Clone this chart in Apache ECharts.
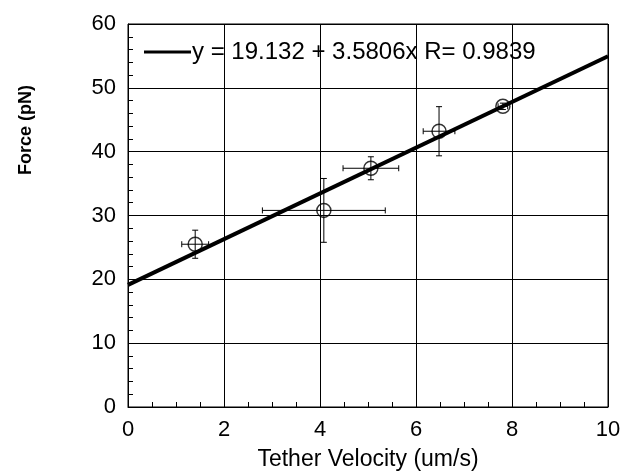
<!DOCTYPE html>
<html>
<head>
<meta charset="utf-8">
<script src="https://cdn.jsdelivr.net/npm/echarts@6/dist/echarts.min.js"></script>
<style>
  html, body { margin: 0; padding: 0; background: #fff; }
  #chart { width: 623px; height: 472px; }
</style>
</head>
<body>
<div id="chart"></div>
<script>
const velocity = [1.40, 4.08, 5.06, 6.48, 7.81];
const force = [25.5, 30.8, 37.4, 43.2, 47.1];
const velocityErr = [0.28, 1.28, 0.58, 0.33, 0.10];
const forceErr = [2.2, 5.0, 1.8, 3.85, 0.5];

// linear fit as printed on the chart
const fitIntercept = 19.132;
const fitSlope = 3.5806;
const fitR = 0.9839;
const fitX = [0, 10];

const xTicks = [0, 2, 4, 6, 8, 10];
const yTicks = [0, 10, 20, 30, 40, 50, 60];

const fitName = 'y = ' + fitIntercept + ' + ' + fitSlope + 'x R= ' + fitR;

let points = velocity.map((v, i) => [v, force[i]]);
let errData = velocity.map((v, i) => [v, force[i], velocityErr[i], forceErr[i]]);
let fitLine = fitX.map(x => [x, fitIntercept + fitSlope * x]);

const font = 'Liberation Sans, Arial, sans-serif';

function errorBars(params, api) {
    let x = api.value(0), y = api.value(1);
    let ex = api.value(2), ey = api.value(3);
    let l = api.coord([x - ex, y]);
    let r = api.coord([x + ex, y]);
    let t = api.coord([x, y + ey]);
    let b = api.coord([x, y - ey]);
    let cap = 3;
    let st = { stroke: '#000', lineWidth: 1 };
    let seg = (x1, y1, x2, y2) => ({ type: 'line', shape: { x1, y1, x2, y2 }, style: st });
    return {
        type: 'group',
        children: [
            seg(l[0], l[1], r[0], r[1]),
            seg(l[0], l[1] - cap, l[0], l[1] + cap),
            seg(r[0], r[1] - cap, r[0], r[1] + cap),
            seg(t[0], t[1], b[0], b[1]),
            seg(t[0] - cap, t[1], t[0] + cap, t[1]),
            seg(b[0] - cap, b[1], b[0] + cap, b[1])
        ]
    };
}

let myChart = echarts.init(document.getElementById('chart'));

let option = {
    animation: false,
    backgroundColor: '#fff',
    grid: {
        left: 128, right: 15, top: 24, bottom: 65,
        outerBoundsMode: 'none',
        show: true, borderColor: '#000', borderWidth: 1
    },
    legend: {
        data: [fitName],
        left: 139, top: 35,
        icon: 'rect', itemWidth: 47, itemHeight: 3, itemGap: 0,
        textStyle: { fontFamily: font, fontSize: 24, color: '#000', padding: [0, 0, 0, -4] }
    },
    graphic: [{
        type: 'text',
        x: 26, y: 130,
        rotation: Math.PI / 2,
        style: {
            text: 'Force (pN)',
            font: 'bold 18px ' + font,
            fill: '#000',
            textAlign: 'center',
            textVerticalAlign: 'middle'
        }
    }],
    xAxis: {
        type: 'value',
        min: 0, max: 10, interval: 2,
        name: 'Tether Velocity (um/s)',
        nameLocation: 'middle', nameGap: 41,
        nameTextStyle: { fontFamily: font, fontSize: 23, color: '#000' },
        axisLine: { lineStyle: { color: '#000', width: 1 } },
        axisTick: { inside: true, length: 6, lineStyle: { color: '#000' } },
        minorTick: { show: true, splitNumber: 4, length: 5, lineStyle: { color: '#000' } },
        axisLabel: { fontFamily: font, fontSize: 22, color: '#000', margin: 12,
            formatter: v => xTicks.includes(v) ? String(v) : '' },
        splitLine: { show: true, lineStyle: { color: '#000', width: 1 } }
    },
    yAxis: {
        type: 'value',
        min: 0, max: 60, interval: 10,
        axisLine: { show: true, lineStyle: { color: '#000', width: 1 } },
        axisTick: { show: true, inside: true, length: 6, lineStyle: { color: '#000' } },
        minorTick: { show: true, splitNumber: 5, length: 5, lineStyle: { color: '#000' } },
        axisLabel: { fontFamily: font, fontSize: 22, color: '#000', margin: 12,
            formatter: v => yTicks.includes(v) ? String(v) : '' },
        splitLine: { show: true, lineStyle: { color: '#000', width: 1 } }
    },
    series: [
        {
            name: fitName,
            type: 'line',
            data: fitLine,
            symbol: 'none',
            lineStyle: { color: '#000', width: 4 },
            itemStyle: { color: '#000' },
            z: 3
        },
        {
            type: 'custom',
            renderItem: errorBars,
            data: errData,
            z: 4
        },
        {
            type: 'scatter',
            data: points,
            symbol: 'circle',
            symbolSize: 14,
            itemStyle: { color: 'rgba(0,0,0,0)', borderColor: '#000', borderWidth: 1.5 },
            z: 5
        }
    ]
};

myChart.setOption(option);
</script>
</body>
</html>
